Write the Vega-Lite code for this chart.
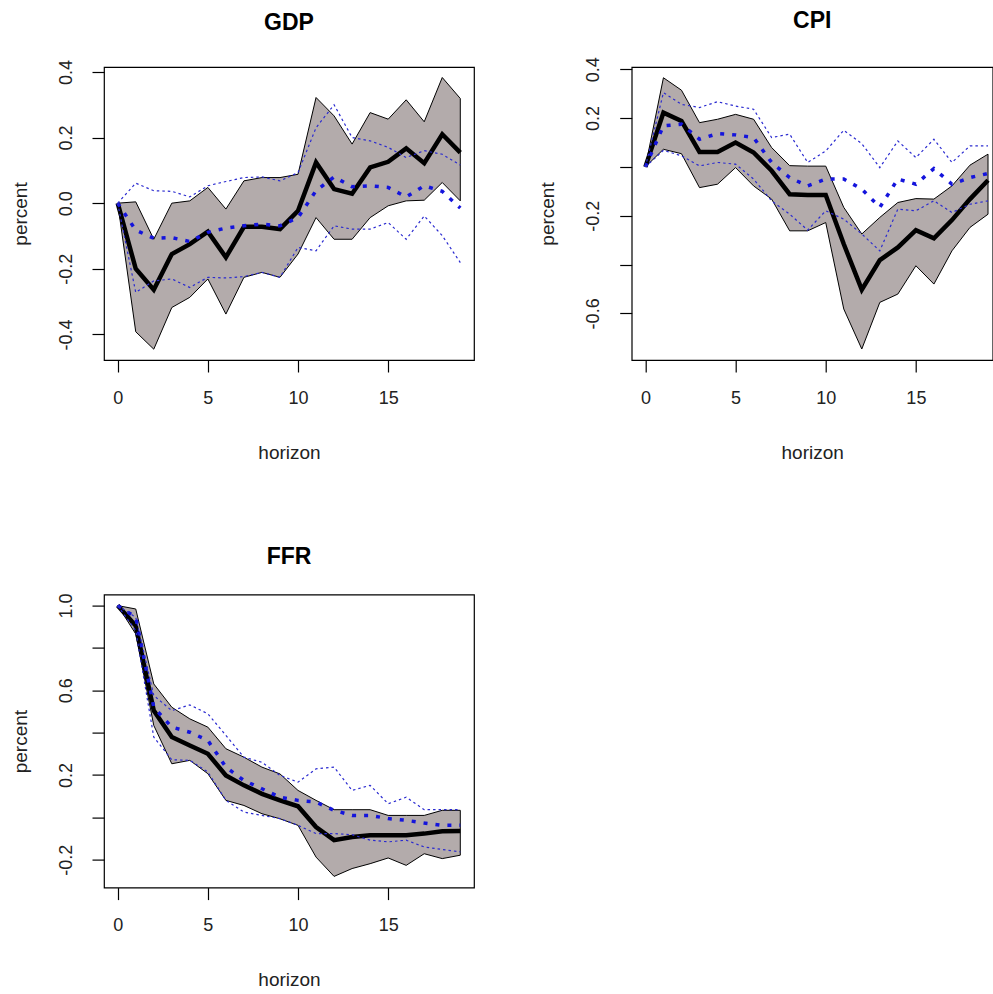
{
  "$schema": "https://vega.github.io/schema/vega-lite/v6.json",
  "padding": {"left": 10, "top": 9, "right": 0, "bottom": 0},
  "background": "white",
  "datasets": {
    "irf": [
      {"v":"GDP","h":0,"med":0,"lo":0,"hi":0,"med2":0,"lo2":0,"hi2":0},
      {"v":"GDP","h":1,"med":-0.2,"lo":-0.392,"hi":0.004,"med2":-0.082,"lo2":-0.272,"hi2":0.061},
      {"v":"GDP","h":2,"med":-0.264,"lo":-0.445,"hi":-0.11,"med2":-0.107,"lo2":-0.237,"hi2":0.038},
      {"v":"GDP","h":3,"med":-0.155,"lo":-0.318,"hi":0.0,"med2":-0.105,"lo2":-0.231,"hi2":0.036},
      {"v":"GDP","h":4,"med":-0.125,"lo":-0.287,"hi":0.007,"med2":-0.117,"lo2":-0.257,"hi2":0.019},
      {"v":"GDP","h":5,"med":-0.087,"lo":-0.231,"hi":0.048,"med2":-0.089,"lo2":-0.226,"hi2":0.053},
      {"v":"GDP","h":6,"med":-0.165,"lo":-0.338,"hi":-0.018,"med2":-0.076,"lo2":-0.228,"hi2":0.066},
      {"v":"GDP","h":7,"med":-0.072,"lo":-0.226,"hi":0.068,"med2":-0.069,"lo2":-0.224,"hi2":0.078},
      {"v":"GDP","h":8,"med":-0.072,"lo":-0.211,"hi":0.078,"med2":-0.064,"lo2":-0.211,"hi2":0.08},
      {"v":"GDP","h":9,"med":-0.079,"lo":-0.226,"hi":0.078,"med2":-0.069,"lo2":-0.226,"hi2":0.068},
      {"v":"GDP","h":10,"med":-0.023,"lo":-0.155,"hi":0.088,"med2":-0.044,"lo2":-0.135,"hi2":0.093},
      {"v":"GDP","h":11,"med":0.124,"lo":-0.044,"hi":0.322,"med2":0.038,"lo2":-0.145,"hi2":0.23},
      {"v":"GDP","h":12,"med":0.043,"lo":-0.11,"hi":0.266,"med2":0.08,"lo2":-0.069,"hi2":0.3},
      {"v":"GDP","h":13,"med":0.029,"lo":-0.11,"hi":0.18,"med2":0.05,"lo2":-0.079,"hi2":0.2},
      {"v":"GDP","h":14,"med":0.109,"lo":-0.044,"hi":0.276,"med2":0.053,"lo2":-0.079,"hi2":0.19},
      {"v":"GDP","h":15,"med":0.126,"lo":-0.008,"hi":0.256,"med2":0.048,"lo2":-0.059,"hi2":0.17},
      {"v":"GDP","h":16,"med":0.167,"lo":0.007,"hi":0.315,"med2":0.019,"lo2":-0.11,"hi2":0.139},
      {"v":"GDP","h":17,"med":0.122,"lo":0.009,"hi":0.248,"med2":0.053,"lo2":-0.039,"hi2":0.16},
      {"v":"GDP","h":18,"med":0.21,"lo":0.063,"hi":0.383,"med2":0.036,"lo2":-0.099,"hi2":0.149},
      {"v":"GDP","h":19,"med":0.154,"lo":0.007,"hi":0.319,"med2":-0.015,"lo2":-0.181,"hi2":0.116},

      {"v":"CPI","h":0,"med":0,"lo":0,"hi":0,"med2":0,"lo2":0,"hi2":0},
      {"v":"CPI","h":1,"med":0.222,"lo":0.072,"hi":0.365,"med2":0.168,"lo2":0.068,"hi2":0.304},
      {"v":"CPI","h":2,"med":0.188,"lo":0.054,"hi":0.314,"med2":0.175,"lo2":0.045,"hi2":0.256},
      {"v":"CPI","h":3,"med":0.061,"lo":-0.085,"hi":0.181,"med2":0.113,"lo2":0.004,"hi2":0.243},
      {"v":"CPI","h":4,"med":0.061,"lo":-0.071,"hi":0.195,"med2":0.136,"lo2":0.018,"hi2":0.267},
      {"v":"CPI","h":5,"med":0.1,"lo":-0.003,"hi":0.215,"med2":0.131,"lo2":0.011,"hi2":0.249},
      {"v":"CPI","h":6,"med":0.059,"lo":-0.078,"hi":0.195,"med2":0.12,"lo2":-0.05,"hi2":0.236},
      {"v":"CPI","h":7,"med":-0.016,"lo":-0.132,"hi":0.079,"med2":0.018,"lo2":-0.139,"hi2":0.12},
      {"v":"CPI","h":8,"med":-0.112,"lo":-0.262,"hi":0.005,"med2":-0.044,"lo2":-0.194,"hi2":0.134},
      {"v":"CPI","h":9,"med":-0.115,"lo":-0.262,"hi":0.003,"med2":-0.078,"lo2":-0.259,"hi2":0.018},
      {"v":"CPI","h":10,"med":-0.115,"lo":-0.228,"hi":0.003,"med2":-0.05,"lo2":-0.18,"hi2":0.065},
      {"v":"CPI","h":11,"med":-0.316,"lo":-0.582,"hi":-0.166,"med2":-0.05,"lo2":-0.214,"hi2":0.15},
      {"v":"CPI","h":12,"med":-0.503,"lo":-0.746,"hi":-0.275,"med2":-0.091,"lo2":-0.275,"hi2":0.095},
      {"v":"CPI","h":13,"med":-0.382,"lo":-0.555,"hi":-0.207,"med2":-0.166,"lo2":-0.344,"hi2":-0.003},
      {"v":"CPI","h":14,"med":-0.33,"lo":-0.521,"hi":-0.146,"med2":-0.05,"lo2":-0.173,"hi2":0.106},
      {"v":"CPI","h":15,"med":-0.259,"lo":-0.405,"hi":-0.13,"med2":-0.071,"lo2":-0.18,"hi2":0.038},
      {"v":"CPI","h":16,"med":-0.293,"lo":-0.48,"hi":-0.132,"med2":-0.007,"lo2":-0.139,"hi2":0.113},
      {"v":"CPI","h":17,"med":-0.218,"lo":-0.344,"hi":-0.078,"med2":-0.071,"lo2":-0.187,"hi2":0.018},
      {"v":"CPI","h":18,"med":-0.132,"lo":-0.248,"hi":0.007,"med2":-0.044,"lo2":-0.153,"hi2":0.086},
      {"v":"CPI","h":19,"med":-0.055,"lo":-0.194,"hi":0.052,"med2":-0.027,"lo2":-0.139,"hi2":0.086},

      {"v":"FFR","h":0,"med":1.0,"lo":1.0,"hi":1.0,"med2":1.0,"lo2":1.0,"hi2":1.0},
      {"v":"FFR","h":1,"med":0.905,"lo":0.866,"hi":0.984,"med2":0.945,"lo2":0.882,"hi2":0.945},
      {"v":"FFR","h":2,"med":0.504,"lo":0.434,"hi":0.63,"med2":0.52,"lo2":0.379,"hi2":0.575},
      {"v":"FFR","h":3,"med":0.379,"lo":0.253,"hi":0.52,"med2":0.426,"lo2":0.272,"hi2":0.504},
      {"v":"FFR","h":4,"med":0.339,"lo":0.269,"hi":0.465,"med2":0.402,"lo2":0.269,"hi2":0.531},
      {"v":"FFR","h":5,"med":0.3,"lo":0.206,"hi":0.426,"med2":0.363,"lo2":0.214,"hi2":0.489},
      {"v":"FFR","h":6,"med":0.198,"lo":0.08,"hi":0.324,"med2":0.237,"lo2":0.08,"hi2":0.387},
      {"v":"FFR","h":7,"med":0.151,"lo":0.056,"hi":0.284,"med2":0.174,"lo2":0.025,"hi2":0.284},
      {"v":"FFR","h":8,"med":0.111,"lo":0.017,"hi":0.237,"med2":0.135,"lo2":0.009,"hi2":0.26},
      {"v":"FFR","h":9,"med":0.08,"lo":-0.007,"hi":0.205,"med2":0.095,"lo2":-0.006,"hi2":0.198},
      {"v":"FFR","h":10,"med":0.052,"lo":-0.038,"hi":0.127,"med2":0.08,"lo2":-0.038,"hi2":0.166},
      {"v":"FFR","h":11,"med":-0.046,"lo":-0.188,"hi":0.08,"med2":0.072,"lo2":-0.077,"hi2":0.229},
      {"v":"FFR","h":12,"med":-0.108,"lo":-0.279,"hi":0.036,"med2":0.033,"lo2":-0.077,"hi2":0.237},
      {"v":"FFR","h":13,"med":-0.093,"lo":-0.242,"hi":0.036,"med2":0.009,"lo2":-0.082,"hi2":0.127},
      {"v":"FFR","h":14,"med":-0.085,"lo":-0.219,"hi":0.036,"med2":0.009,"lo2":-0.108,"hi2":0.151},
      {"v":"FFR","h":15,"med":-0.085,"lo":-0.192,"hi":0.009,"med2":-0.006,"lo2":-0.116,"hi2":0.064},
      {"v":"FFR","h":16,"med":-0.085,"lo":-0.227,"hi":0.009,"med2":-0.014,"lo2":-0.108,"hi2":0.095},
      {"v":"FFR","h":17,"med":-0.077,"lo":-0.172,"hi":0.009,"med2":-0.027,"lo2":-0.14,"hi2":0.036},
      {"v":"FFR","h":18,"med":-0.066,"lo":-0.195,"hi":0.033,"med2":-0.038,"lo2":-0.152,"hi2":0.036},
      {"v":"FFR","h":19,"med":-0.065,"lo":-0.179,"hi":0.033,"med2":-0.038,"lo2":-0.163,"hi2":0.036}
    ]
  },
  "columns": 2,
  "spacing": {"row": 234.6, "column": 157.7},
  "bounds": "flush",
  "concat": [
    {
      "width": 370, "height": 293,
      "title": "GDP",
      "data": {"name": "irf"},
      "transform": [{"filter": "datum.v === 'GDP'"}],
      "encoding": {"x": {"field": "h", "type": "quantitative", "title": "horizon", "scale": {"domain": [-0.76, 19.76], "nice": false, "zero": false}, "axis": {"values": [0, 5, 10, 15]}}},
      "layer": [
        {"mark": {"type": "area", "color": "#b3abab", "stroke": "black", "strokeWidth": 1, "clip": true},
         "encoding": {"y": {"field": "lo", "type": "quantitative", "title": "percent", "scale": {"domain": [-0.478, 0.415], "nice": false, "zero": false}, "axis": {"values": [-0.4, -0.2, 0, 0.2, 0.4], "labelExpr": "replace(format(datum.value, '.1f'), '−', '-')"}}, "y2": {"field": "hi"}}},
        {"mark": {"type": "line", "color": "black", "strokeWidth": 4.5, "clip": true}, "encoding": {"y": {"field": "med", "type": "quantitative", "title": "percent"}}},
        {"mark": {"type": "line", "color": "#1414dc", "strokeWidth": 3.5, "strokeDash": [4, 8], "clip": true}, "encoding": {"y": {"field": "med2", "type": "quantitative", "title": "percent"}}},
        {"mark": {"type": "line", "color": "#2a2ad0", "strokeWidth": 1.2, "strokeDash": [2.5, 3], "clip": true}, "encoding": {"y": {"field": "lo2", "type": "quantitative", "title": "percent"}}},
        {"mark": {"type": "line", "color": "#2a2ad0", "strokeWidth": 1.2, "strokeDash": [2.5, 3], "clip": true}, "encoding": {"y": {"field": "hi2", "type": "quantitative", "title": "percent"}}},
        {"mark": {"type": "rule", "color": "black", "strokeWidth": 1.3}, "encoding": {"y": {"datum": 0, "type": "quantitative", "title": "percent"}}}
      ]
    },
    {
      "width": 361, "height": 293,
      "title": "CPI",
      "data": {"name": "irf"},
      "transform": [{"filter": "datum.v === 'CPI'"}],
      "encoding": {"x": {"field": "h", "type": "quantitative", "title": "horizon", "scale": {"domain": [-0.76, 19.26], "nice": false, "zero": false}, "axis": {"values": [0, 5, 10, 15]}}},
      "layer": [
        {"mark": {"type": "area", "color": "#b3abab", "stroke": "black", "strokeWidth": 1, "clip": true},
         "encoding": {"y": {"field": "lo", "type": "quantitative", "title": "percent", "scale": {"domain": [-0.791, 0.409], "nice": false, "zero": false}, "axis": {"values": [-0.6, -0.4, -0.2, 0, 0.2, 0.4], "labelExpr": "datum.value == 0 || datum.value == -0.4 ? '' : replace(format(datum.value, '.1f'), '−', '-')"}}, "y2": {"field": "hi"}}},
        {"mark": {"type": "line", "color": "black", "strokeWidth": 4.5, "clip": true}, "encoding": {"y": {"field": "med", "type": "quantitative", "title": "percent"}}},
        {"mark": {"type": "line", "color": "#1414dc", "strokeWidth": 3.5, "strokeDash": [4, 8], "clip": true}, "encoding": {"y": {"field": "med2", "type": "quantitative", "title": "percent"}}},
        {"mark": {"type": "line", "color": "#2a2ad0", "strokeWidth": 1.2, "strokeDash": [2.5, 3], "clip": true}, "encoding": {"y": {"field": "lo2", "type": "quantitative", "title": "percent"}}},
        {"mark": {"type": "line", "color": "#2a2ad0", "strokeWidth": 1.2, "strokeDash": [2.5, 3], "clip": true}, "encoding": {"y": {"field": "hi2", "type": "quantitative", "title": "percent"}}},
        {"mark": {"type": "rule", "color": "black", "strokeWidth": 1.3}, "encoding": {"y": {"datum": 0, "type": "quantitative", "title": "percent"}}}
      ]
    },
    {
      "width": 370, "height": 293,
      "title": "FFR",
      "data": {"name": "irf"},
      "transform": [{"filter": "datum.v === 'FFR'"}],
      "encoding": {"x": {"field": "h", "type": "quantitative", "title": "horizon", "scale": {"domain": [-0.76, 19.76], "nice": false, "zero": false}, "axis": {"values": [0, 5, 10, 15]}}},
      "layer": [
        {"mark": {"type": "area", "color": "#b3abab", "stroke": "black", "strokeWidth": 1, "clip": true},
         "encoding": {"y": {"field": "lo", "type": "quantitative", "title": "percent", "scale": {"domain": [-0.332, 1.052], "nice": false, "zero": false}, "axis": {"values": [-0.2, 0, 0.2, 0.4, 0.6, 0.8, 1.0], "labelExpr": "datum.value == 0 || datum.value == 0.4 || datum.value == 0.8 ? '' : replace(format(datum.value, '.1f'), '−', '-')"}}, "y2": {"field": "hi"}}},
        {"mark": {"type": "line", "color": "black", "strokeWidth": 4.5, "clip": true}, "encoding": {"y": {"field": "med", "type": "quantitative", "title": "percent"}}},
        {"mark": {"type": "line", "color": "#1414dc", "strokeWidth": 3.5, "strokeDash": [4, 8], "clip": true}, "encoding": {"y": {"field": "med2", "type": "quantitative", "title": "percent"}}},
        {"mark": {"type": "line", "color": "#2a2ad0", "strokeWidth": 1.2, "strokeDash": [2.5, 3], "clip": true}, "encoding": {"y": {"field": "lo2", "type": "quantitative", "title": "percent"}}},
        {"mark": {"type": "line", "color": "#2a2ad0", "strokeWidth": 1.2, "strokeDash": [2.5, 3], "clip": true}, "encoding": {"y": {"field": "hi2", "type": "quantitative", "title": "percent"}}},
        {"mark": {"type": "rule", "color": "black", "strokeWidth": 1.3}, "encoding": {"y": {"datum": 0, "type": "quantitative", "title": "percent"}}}
      ]
    }
  ],
  "config": {
    "view": {"stroke": "black", "strokeWidth": 1.2},
    "font": "Liberation Sans",
    "axis": {"domain": false, "grid": false, "ticks": true, "tickColor": "black", "tickSize": 12, "tickWidth": 1.2, "labelFont": "Liberation Sans", "labelFontSize": 18, "labelColor": "#222222", "labelPadding": 26, "labelFlush": false, "labelOverlap": false, "titleFont": "Liberation Sans", "titleFontSize": 19, "titleFontWeight": "normal", "titleColor": "#222222"},
    "axisX": {"labelBaseline": "middle", "labelAlign": "center", "titleY": 92, "titleBaseline": "middle"},
    "axisY": {"labelAngle": -90, "labelAlign": "center", "labelBaseline": "middle", "titleX": -84, "titleBaseline": "middle", "titleAngle": -90},
    "title": {"font": "Liberation Sans", "fontSize": 23, "fontWeight": "bold", "color": "black", "anchor": "middle", "frame": "group", "offset": 24, "baseline": "alphabetic"}
  }
}
